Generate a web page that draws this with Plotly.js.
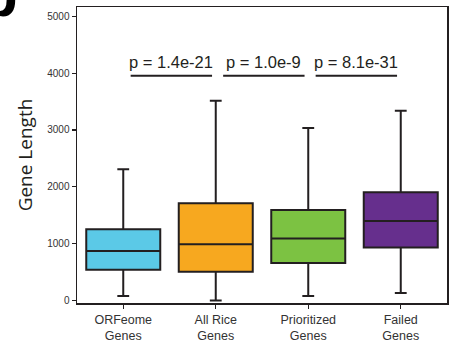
<!DOCTYPE html>
<html>
<head>
<meta charset="utf-8">
<script src="https://cdn.plot.ly/plotly-3.0.1.min.js"></script>
<style>html,body{margin:0;padding:0;background:#fff;}#chart{width:452px;height:344px;}</style>
</head>
<body>
<div id="chart"></div>
<script>
const categories = ["ORFeome Genes", "All Rice Genes", "Prioritized Genes", "Failed Genes"];
const tickLabels = ["ORFeome<br>Genes", "All Rice<br>Genes", "Prioritized<br>Genes", "Failed<br>Genes"];
const lowerWhisker = [76, 0, 76, 129];
const q1Values = [541, 506, 658, 929];
const medianValues = [870, 988, 1088, 1399];
const q3Values = [1252, 1711, 1593, 1905];
const upperWhisker = [2310, 3515, 3034, 3339];
const boxColors = ["#5BC9E7", "#F7A81F", "#7CC242", "#662F8D"];
const pLabels = ["p = 1.4e-21", "p = 1.0e-9", "p = 8.1e-31"];
const pLineY = 3956;
const pTextY = 4190;

const lineColor = "#231F20";
const traces = categories.map((c, i) => ({
  type: "box",
  x: [c],
  q1: [q1Values[i]],
  median: [medianValues[i]],
  q3: [q3Values[i]],
  lowerfence: [lowerWhisker[i]],
  upperfence: [upperWhisker[i]],
  fillcolor: boxColors[i],
  line: {color: lineColor, width: 2},
  width: 0.8,
  whiskerwidth: 0.16,
  boxpoints: false,
  hoverinfo: "skip",
  showlegend: false
}));

const shapes = pLabels.map((p, i) => ({
  type: "line", xref: "x", yref: "y",
  x0: i + 0.08, x1: i + 0.96, y0: pLineY, y1: pLineY,
  line: {color: lineColor, width: 2}
}));
const annotations = pLabels.map((p, i) => ({
  text: p, xref: "x", yref: "y", x: i + 0.52, y: pTextY,
  showarrow: false, font: {family: "Liberation Sans, Arial, sans-serif", size: 16.5, color: "#231F20"}
}));
annotations.push({
  text: "<b>b</b>", xref: "paper", yref: "paper", x: -0.235, y: 1.02,
  xanchor: "left", yanchor: "bottom", showarrow: false,
  xshift: -11, yshift: -30,
  font: {family: "Liberation Sans, Arial, sans-serif", size: 60, color: "#000"}
});

const layout = {
  width: 452, height: 344,
  margin: {l: 77, r: 5, t: 7, b: 41},
  paper_bgcolor: "#fff", plot_bgcolor: "#fff",
  boxmode: "overlay",
  showlegend: false,
  xaxis: {
    type: "category",
    categoryorder: "array", categoryarray: categories,
    tickvals: categories, ticktext: tickLabels,
    range: [-0.5, 3.5],
    showline: true, mirror: true, linecolor: "#231F20", linewidth: 1.5,
    ticks: "outside", ticklen: 4, tickcolor: "#231F20", tickwidth: 1.2,
    showgrid: false, zeroline: false,
    tickfont: {family: "Liberation Sans, Arial, sans-serif", size: 12.5, color: "#333"}
  },
  yaxis: {
    range: [-46, 5165],
    tickvals: [0, 1000, 2000, 3000, 4000, 5000],
    showline: true, mirror: true, linecolor: "#231F20", linewidth: 1.5,
    ticks: "outside", ticklen: 4, tickcolor: "#231F20", tickwidth: 1.2,
    showgrid: false, zeroline: false,
    tickfont: {family: "Liberation Sans, Arial, sans-serif", size: 10, color: "#333"},
    title: {text: "Gene Length", standoff: 9, font: {family: "Open Sans, sans-serif", size: 19, color: "#231F20"}}
  },
  shapes: shapes,
  annotations: annotations
};

Plotly.newPlot("chart", traces, layout, {staticPlot: true, displayModeBar: false});
</script>
</body>
</html>
